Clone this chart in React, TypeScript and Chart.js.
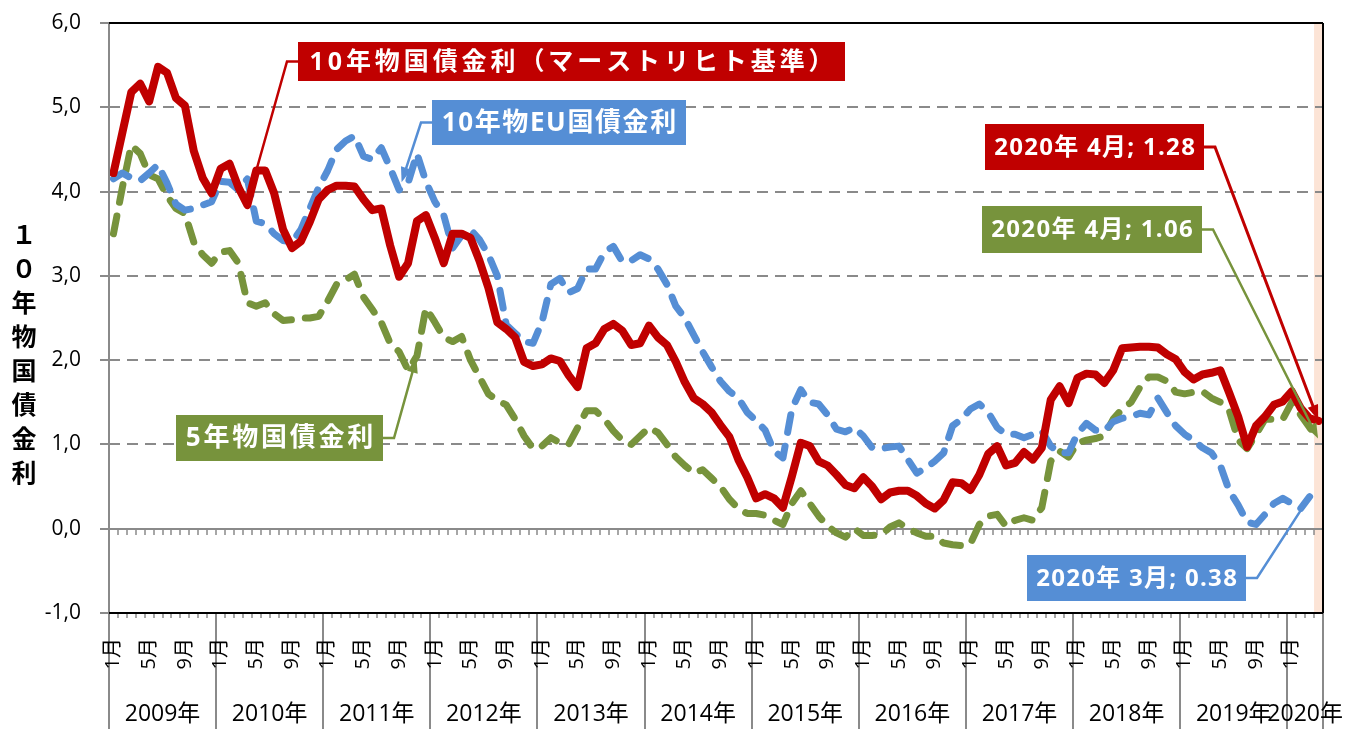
import React, { useEffect, useRef } from 'react';
import { Chart, registerables } from 'chart.js';

Chart.register(...registerables);

// ---------- data ----------
const YEARS = [2009, 2010, 2011, 2012, 2013, 2014, 2015, 2016, 2017, 2018, 2019, 2020];
const MONTHS_IN_LAST_YEAR = 4;
const YEAR_LABELS = YEARS.map((y) => `${y}年`);
const LABELED_MONTHS = [1, 5, 9];
const MONTH_LABELS = ['1月', '5月', '9月'];
const CATEGORIES = YEARS.flatMap((y, k) =>
  Array.from({ length: k === YEARS.length - 1 ? MONTHS_IN_LAST_YEAR : 12 }, (_, m) => `${y}年${m + 1}月`)
);

const Y_MIN = -1;
const Y_MAX = 6;
const Y_STEP = 1;
const Y_TITLE = '１０年物国債金利';

// 10年物国債金利（マーストリヒト基準）
const RED_10Y = [
  4.22, 4.70, 5.18, 5.28, 5.07, 5.48, 5.41, 5.11, 5.02, 4.48, 4.16, 3.98,
  4.27, 4.33, 4.05, 3.84, 4.25, 4.25, 3.98, 3.55, 3.33, 3.41, 3.64, 3.91,
  4.02, 4.07, 4.07, 4.06, 3.91, 3.78, 3.80, 3.36, 2.99, 3.15, 3.65, 3.72,
  3.45, 3.15, 3.50, 3.50, 3.45, 3.18, 2.86, 2.45, 2.37, 2.27, 1.98, 1.93,
  1.95, 2.02, 1.99, 1.82, 1.68, 2.14, 2.20, 2.37, 2.43, 2.35, 2.18, 2.20,
  2.41, 2.27, 2.18, 1.98, 1.74, 1.55, 1.48, 1.38, 1.23, 1.09, 0.82, 0.61,
  0.36, 0.41, 0.36, 0.25, 0.62, 1.02, 0.98, 0.80, 0.75, 0.64, 0.52, 0.48,
  0.61, 0.50, 0.35, 0.43, 0.45, 0.45, 0.39, 0.30, 0.24, 0.34, 0.55, 0.54,
  0.46, 0.64, 0.89, 0.98, 0.75, 0.78, 0.91, 0.82, 0.96, 1.53, 1.69, 1.49,
  1.79, 1.84, 1.83, 1.73, 1.88, 2.14, 2.15, 2.16, 2.16, 2.15, 2.07, 2.01,
  1.86, 1.77, 1.83, 1.85, 1.88, 1.61, 1.33, 0.97, 1.22, 1.33, 1.47, 1.51,
  1.63, 1.43, 1.31, 1.28,
];

// 10年物EU国債金利 (ends March 2020)
const EU_10Y = [
  4.15, 4.22, 4.16, 4.13, 4.22, 4.32, 4.10, 3.85, 3.78, 3.80, 3.84, 3.88,
  4.12, 4.11, 4.02, 4.15, 3.65, 3.62, 3.50, 3.42, 3.40, 3.55, 3.80, 4.05,
  4.25, 4.50, 4.60, 4.66, 4.42, 4.38, 4.52, 4.28, 4.02, 4.10, 4.45, 4.12,
  3.88, 3.72, 3.33, 3.48, 3.55, 3.43, 3.25, 3.00, 2.42, 2.32, 2.22, 2.20,
  2.45, 2.90, 2.97, 2.80, 2.85, 3.08, 3.08, 3.28, 3.35, 3.17, 3.18, 3.25,
  3.20, 3.08, 2.90, 2.64, 2.50, 2.30, 2.10, 1.92, 1.75, 1.63, 1.55, 1.38,
  1.28, 1.17, 0.92, 0.84, 1.42, 1.65, 1.50, 1.48, 1.35, 1.18, 1.15, 1.20,
  1.10, 0.96, 0.95, 0.97, 0.98, 0.82, 0.66, 0.72, 0.80, 0.90, 1.22, 1.30,
  1.42, 1.48, 1.38, 1.20, 1.12, 1.12, 1.08, 1.12, 1.16, 0.98, 0.90, 0.90,
  1.13, 1.25, 1.17, 1.16, 1.27, 1.31, 1.33, 1.37, 1.35, 1.55, 1.38, 1.22,
  1.12, 1.05, 0.96, 0.90, 0.75, 0.45, 0.28, 0.08, 0.05, 0.17, 0.30, 0.36,
  0.30, 0.24, 0.38,
];

// 5年物国債金利
const GREEN_5Y = [
  3.50, 4.05, 4.55, 4.45, 4.20, 4.15, 3.95, 3.80, 3.74, 3.40, 3.25, 3.15,
  3.28, 3.30, 3.15, 2.68, 2.64, 2.68, 2.55, 2.47, 2.48, 2.50, 2.50, 2.52,
  2.70, 2.90, 2.95, 3.02, 2.75, 2.60, 2.45, 2.20, 2.10, 1.88, 2.05, 2.62,
  2.45, 2.27, 2.22, 2.28, 2.00, 1.80, 1.60, 1.52, 1.47, 1.30, 1.10, 0.95,
  0.98, 1.08, 1.02, 1.00, 1.20, 1.40, 1.40, 1.30, 1.16, 1.05, 1.00, 1.10,
  1.20, 1.14, 1.00, 0.85, 0.75, 0.66, 0.70, 0.60, 0.50, 0.35, 0.24, 0.18,
  0.18, 0.16, 0.10, 0.05, 0.30, 0.45, 0.30, 0.15, 0.03, -0.05, -0.10, 0.00,
  -0.08, -0.08, -0.07, 0.02, 0.07, 0.00, -0.05, -0.09, -0.09, -0.17, -0.19, -0.20,
  -0.18, 0.05, 0.15, 0.17, 0.03, 0.10, 0.13, 0.10, 0.25, 0.80, 0.92, 0.85,
  1.02, 1.05, 1.07, 1.10, 1.30, 1.42, 1.50, 1.68, 1.80, 1.80, 1.75, 1.62,
  1.60, 1.62, 1.63, 1.55, 1.50, 1.40, 1.05, 0.95, 1.12, 1.30, 1.30, 1.30,
  1.50, 1.35, 1.20, 1.06,
];

// ---------- styles ----------
const RED = '#C00000';
const BLUE = '#558ED5';
const GREEN = '#77933C';
const GRAY = '#8A8A8A';
const FONT = '"Open Sans", "Noto Sans CJK JP", sans-serif';
const CJK = '"Noto Sans CJK JP", "Open Sans", sans-serif';

type Ann = {
  text: string;
  color: string;
  box: [number, number, number, number]; // x, y, w, h
  textW: number;
  size: number;
  side: 'left' | 'right';
  series: number;
  index: number;
  gap: number;
  head: boolean;
  lw: number;
};

const ANNOTATIONS: Ann[] = [
  { text: '10年物国債金利（マーストリヒト基準）', color: RED, box: [298, 42, 547, 39], textW: 528, size: 25, side: 'left', series: 0, index: 16, gap: 0, head: false, lw: 2.5 },
  { text: '10年物EU国債金利', color: BLUE, box: [432, 100, 254, 45], textW: 236, size: 26, side: 'left', series: 1, index: 32, gap: 8, head: true, lw: 2.5 },
  { text: '5年物国債金利', color: GREEN, box: [176, 415, 207, 46], textW: 190, size: 26, side: 'right', series: 2, index: 34, gap: 2, head: true, lw: 2.5 },
  { text: '2020年 4月; 1.28', color: RED, box: [985, 124, 219, 46], textW: 202, size: 24, side: 'right', series: 0, index: 135, gap: 1, head: true, lw: 3 },
  { text: '2020年 4月; 1.06', color: GREEN, box: [982, 206, 220, 47], textW: 203, size: 24, side: 'right', series: 2, index: 135, gap: 1, head: true, lw: 2.5 },
  { text: '2020年 3月; 0.38', color: BLUE, box: [1027, 555, 219, 46], textW: 202, size: 24, side: 'right', series: 1, index: 134, gap: 8, head: false, lw: 2.5 },
];

const SERIES = [RED_10Y, EU_10Y, GREEN_5Y];

function seg(ctx: CanvasRenderingContext2D, x1: number, y1: number, x2: number, y2: number) {
  ctx.beginPath();
  ctx.moveTo(x1, y1);
  ctx.lineTo(x2, y2);
  ctx.stroke();
}

function arrowHead(ctx: CanvasRenderingContext2D, fx: number, fy: number, tx: number, ty: number, len: number, w: number) {
  const ang = Math.atan2(ty - fy, tx - fx);
  const bx = tx - len * Math.cos(ang);
  const by = ty - len * Math.sin(ang);
  ctx.beginPath();
  ctx.moveTo(tx, ty);
  ctx.lineTo(bx + (w / 2) * Math.sin(ang), by - (w / 2) * Math.cos(ang));
  ctx.lineTo(bx - (w / 2) * Math.sin(ang), by + (w / 2) * Math.cos(ang));
  ctx.closePath();
  ctx.fill();
}

const overlay = {
  id: 'overlay',
  beforeDatasetsDraw(chart: any) {
    const { ctx, chartArea: a } = chart;
    const xs = chart.scales.x;
    const ys = chart.scales.y;
    const n = CATEGORIES.length;
    const step = (a.right - a.left) / n;
    ctx.save();
    // highlight of last month
    const bandL = xs.getPixelForValue(n - 1) - step / 2;
    ctx.fillStyle = '#FCE4D6';
    ctx.fillRect(bandL, a.top, a.right - bandL, a.bottom - a.top);
    // dashed gridlines
    ctx.strokeStyle = GRAY;
    ctx.lineWidth = 2;
    ctx.setLineDash([11, 7]);
    for (let v = Y_MIN + Y_STEP; v < Y_MAX; v += Y_STEP) {
      if (v === 0) continue;
      const py = Math.round(ys.getPixelForValue(v));
      seg(ctx, a.left, py, a.right, py);
    }
    ctx.setLineDash([]);
    // zero line with month ticks
    const y0 = Math.round(ys.getPixelForValue(0));
    seg(ctx, a.left, y0, a.right, y0);
    ctx.lineWidth = 1.5;
    for (let i = 0; i <= n; i++) {
      const bx = Math.round(i < n ? xs.getPixelForValue(i) - step / 2 : xs.getPixelForValue(n - 1) + step / 2);
      seg(ctx, bx, y0, bx, y0 + 6);
    }
    ctx.restore();
  },
  afterDraw(chart: any) {
    const { ctx, chartArea: a, height } = chart;
    const xs = chart.scales.x;
    const ys = chart.scales.y;
    const n = CATEGORIES.length;
    const step = (a.right - a.left) / n;
    const boundary = (i: number) => (i < n ? xs.getPixelForValue(i) - step / 2 : xs.getPixelForValue(n - 1) + step / 2);
    ctx.save();

    // bottom month ticks
    ctx.strokeStyle = GRAY;
    ctx.lineWidth = 1.5;
    for (let i = 0; i <= n; i++) {
      const bx = Math.round(boundary(i));
      seg(ctx, bx, a.bottom, bx, a.bottom + 5);
    }
    // left axis line + ticks
    ctx.lineWidth = 2;
    seg(ctx, a.left, a.top, a.left, height);
    for (let v = Y_MIN; v <= Y_MAX; v += Y_STEP) {
      const py = Math.round(ys.getPixelForValue(v));
      seg(ctx, a.left - 9, py, a.left, py);
    }
    // year separators
    for (let k = 0; k <= YEARS.length; k++) {
      const bx = Math.round(boundary(Math.min(k * 12, n)));
      seg(ctx, bx, a.bottom, bx, height);
    }
    // plot border (top, right, bottom)
    ctx.strokeStyle = '#000';
    ctx.lineWidth = 2;
    seg(ctx, a.left, a.top, a.right, a.top);
    seg(ctx, a.right, a.top, a.right, a.bottom);
    seg(ctx, a.left, a.bottom, a.right, a.bottom);

    // month labels (rotated)
    ctx.fillStyle = '#000';
    ctx.font = `20px ${FONT}`;
    ctx.textAlign = 'right';
    ctx.textBaseline = 'middle';
    CATEGORIES.forEach((_, i) => {
      const m = (i % 12) + 1;
      const li = LABELED_MONTHS.indexOf(m);
      if (li < 0) return;
      ctx.save();
      ctx.translate(xs.getPixelForValue(i), a.bottom + 25);
      ctx.rotate(-Math.PI / 2);
      ctx.fillText(MONTH_LABELS[li], 0, 0);
      ctx.restore();
    });
    // year labels
    ctx.font = `23px ${FONT}`;
    ctx.textAlign = 'center';
    YEAR_LABELS.forEach((lab, k) => {
      const l = boundary(k * 12);
      const r = boundary(Math.min(k * 12 + 12, n));
      ctx.fillText(lab, (l + r) / 2, 714);
    });

    // y axis title (stacked)
    ctx.font = `bold 25px ${CJK}`;
    ctx.textAlign = 'center';
    [...Y_TITLE].forEach((ch, k) => {
      ctx.fillText(ch, 24, 234 + k * 34);
    });

    // annotations
    ANNOTATIONS.forEach((an) => {
      const [bx, by, bw, bh] = an.box;
      const data = SERIES[an.series];
      const px = xs.getPixelForValue(an.index);
      const py = ys.getPixelForValue(data[an.index]);
      const sx = an.side === 'left' ? bx : bx + bw;
      const sy = by + bh / 2;
      const ex = an.side === 'left' ? sx - 11 : sx + 11;
      const d = Math.hypot(px - ex, py - sy);
      const tx = px - ((px - ex) / d) * an.gap;
      const ty = py - ((py - sy) / d) * an.gap;
      ctx.strokeStyle = an.color;
      ctx.fillStyle = an.color;
      ctx.lineWidth = an.lw;
      ctx.lineJoin = 'miter';
      const hl = an.head ? 14 : 0;
      const dl = Math.hypot(tx - ex, ty - sy);
      const bx2 = tx - ((tx - ex) / dl) * hl;
      const by2 = ty - ((ty - sy) / dl) * hl;
      ctx.beginPath();
      ctx.moveTo(sx, sy);
      ctx.lineTo(ex, sy);
      ctx.lineTo(bx2, by2);
      ctx.stroke();
      if (an.head) arrowHead(ctx, ex, sy, tx, ty, 15, 11);
      // box
      ctx.fillRect(bx, by, bw, bh);
      ctx.fillStyle = '#fff';
      ctx.font = `bold ${an.size}px ${FONT}`;
      ctx.textAlign = 'center';
      ctx.textBaseline = 'middle';
      (ctx as any).letterSpacing = '0px';
      const w = ctx.measureText(an.text).width;
      const chars = [...an.text].length;
      let ls = (an.textW - w) / chars;
      ls = Math.max(-1.5, Math.min(6, ls));
      (ctx as any).letterSpacing = `${ls}px`;
      ctx.fillText(an.text, bx + bw / 2 + ls / 2, by + bh / 2 + 1);
      (ctx as any).letterSpacing = '0px';
    });
    ctx.restore();
  },
};

export default function App() {
  const ref = useRef<HTMLCanvasElement | null>(null);
  useEffect(() => {
    if (!ref.current) return;
    const chart = new Chart(ref.current, {
      type: 'line',
      data: {
        labels: CATEGORIES,
        datasets: [
          {
            label: '10年物国債金利（マーストリヒト基準）',
            data: RED_10Y,
            borderColor: RED,
            borderWidth: 8,
            pointRadius: 0,
            tension: 0,
            fill: false,
            borderJoinStyle: 'round',
            borderCapStyle: 'round',
          },
          {
            label: '10年物EU国債金利',
            data: EU_10Y,
            borderColor: BLUE,
            borderWidth: 7,
            borderDash: [18, 14],
            pointRadius: 0,
            tension: 0,
            fill: false,
            borderJoinStyle: 'round',
            borderCapStyle: 'round',
          },
          {
            label: '5年物国債金利',
            data: GREEN_5Y,
            borderColor: GREEN,
            borderWidth: 7,
            borderDash: [18, 14],
            pointRadius: 0,
            tension: 0,
            fill: false,
            borderJoinStyle: 'round',
            borderCapStyle: 'round',
          },
        ],
      } as any,
      options: {
        responsive: false,
        animation: false,
        devicePixelRatio: 1,
        layout: { padding: { top: 23, right: 39, left: 0, bottom: 0 } },
        plugins: {
          legend: { display: false },
          tooltip: { enabled: false },
          title: { display: false },
        },
        scales: {
          x: {
            type: 'category',
            offset: true,
            grid: { display: false, drawTicks: false },
            border: { display: false },
            ticks: { display: false },
            afterFit: (s: any) => {
              s.height = 116;
              s.paddingLeft = 0;
              s.paddingRight = 0;
            },
          },
          y: {
            min: Y_MIN,
            max: Y_MAX,
            grid: { display: false, drawTicks: false },
            border: { display: false },
            ticks: {
              stepSize: Y_STEP,
              padding: 28,
              color: '#000',
              font: { size: 21, family: FONT },
              callback: (v: any) => Number(v).toFixed(1).replace('.', ','),
            },
            afterFit: (s: any) => {
              s.width = 109;
              s.paddingTop = 0;
              s.paddingBottom = 0;
            },
          },
        },
      } as any,
      plugins: [overlay],
    });
    return () => chart.destroy();
  }, []);
  return (
    <div style={{ position: 'absolute', left: 0, top: 0, width: 1362, height: 729, background: '#fff' }}>
      <canvas ref={ref} width={1362} height={729} style={{ display: 'block' }} />
    </div>
  );
}
